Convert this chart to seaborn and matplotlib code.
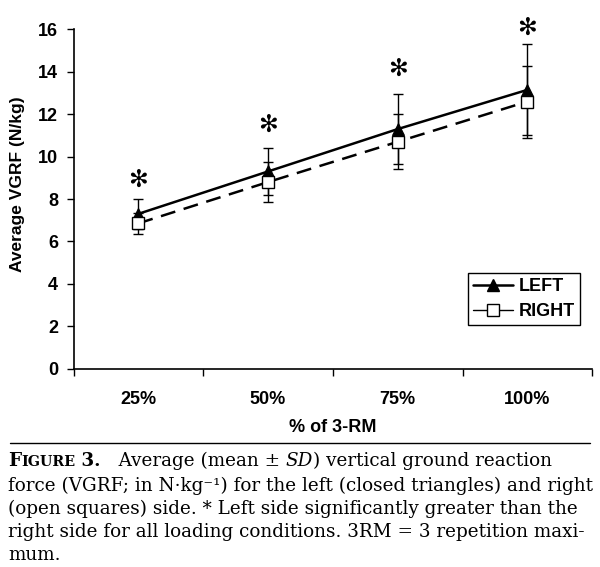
import numpy as np
import pandas as pd
import matplotlib
matplotlib.use("Agg")
import matplotlib.pyplot as plt
import seaborn as sns
from matplotlib.lines import Line2D
from matplotlib.offsetbox import TextArea, HPacker, AnchoredOffsetbox

# ---- data ----
categories = ["25%", "50%", "75%", "100%"]
left_mean = [7.3, 9.3, 11.3, 13.15]
left_sd = [0.7, 1.1, 1.65, 2.15]
right_mean = [6.85, 8.8, 10.7, 12.6]
right_sd = [0.5, 0.95, 1.3, 1.7]
star_y = [8.9, 11.5, 14.15, 16.1]
y_ticks = [0, 2, 4, 6, 8, 10, 12, 14, 16]
series_names = ["LEFT", "RIGHT"]

sns.set_theme(style="white")
plt.rcParams['font.family'] = ['Liberation Sans', 'DejaVu Sans']
plt.rcParams.update({
    "text.color": "black", "axes.labelcolor": "black",
    "xtick.color": "black", "ytick.color": "black",
})

df = pd.DataFrame({
    "pos": list(range(len(categories))) * 2,
    "value": left_mean + right_mean,
    "side": [series_names[0]] * len(categories) + [series_names[1]] * len(categories),
})

fig = plt.figure(figsize=(6.0, 5.67), dpi=100)
ax = fig.add_axes([0.1225, 0.350, 0.8645, 0.598])

x = np.arange(len(categories))
ax.errorbar(x, left_mean, yerr=left_sd, fmt='none', ecolor='black', elinewidth=1.0,
            capsize=3.5, capthick=1.0, zorder=2)
ax.errorbar(x, right_mean, yerr=right_sd, fmt='none', ecolor='black', elinewidth=1.0,
            capsize=3.5, capthick=1.0, zorder=2)

sns.lineplot(data=df[df.side == "LEFT"], x="pos", y="value", ax=ax, color="black",
             linewidth=1.8, marker="^", markersize=8, markerfacecolor="black",
             markeredgecolor="black", legend=False, zorder=3)
sns.lineplot(data=df[df.side == "RIGHT"], x="pos", y="value", ax=ax, color="black",
             linewidth=1.8, marker="s", markersize=8, markerfacecolor="white",
             markeredgecolor="black", markeredgewidth=1.0, legend=False, zorder=3,
             dashes=False)
ax.lines[-1].set_linestyle((0, (6, 3.5)))

for xi, yi in zip(x, star_y):
    ax.text(xi, yi, "\u273B", ha="center", va="center", fontsize=17, fontweight="bold",
            family="DejaVu Sans", color="black", clip_on=False)

ax.set_xlim(-0.5, 3.5)
ax.set_ylim(0, 16)
ax.set_yticks(y_ticks)
ax.set_yticklabels([str(t) for t in y_ticks], fontsize=13, fontweight="bold")
ax.set_xticks(x)
ax.set_xticklabels(categories, fontsize=13, fontweight="bold")
ax.set_xticks(np.arange(-0.5, 3.6, 1.0), minor=True)
ax.tick_params(axis="x", which="major", length=0, pad=16)
ax.tick_params(axis="x", which="minor", length=5, width=1.0, color="black", direction="out", bottom=True)
ax.tick_params(axis="y", which="major", length=5, width=1.0, color="black", direction="out", left=True, pad=6)

for s in ["top", "right"]:
    ax.spines[s].set_visible(False)
for s in ["left", "bottom"]:
    ax.spines[s].set_color("black")
    ax.spines[s].set_linewidth(1.2)

ax.set_xlabel("% of 3-RM", fontsize=13, fontweight="bold", labelpad=8)
ax.set_ylabel("Average VGRF (N/kg)", fontsize=12.5, fontweight="bold")
ax.yaxis.set_label_coords(-0.094, 0.544)

handles = [
    Line2D([], [], color="black", lw=1.8, marker="^", markersize=8, markerfacecolor="black"),
    Line2D([], [], color="black", lw=1.0, marker="s", markersize=8, markerfacecolor="white",
           markeredgewidth=1.0),
]
leg = ax.legend(handles, series_names, loc="lower right", bbox_to_anchor=(0.977, 0.127),
                frameon=True, fancybox=False, edgecolor="black", framealpha=1,
                prop={"weight": "bold", "size": 13}, handlelength=2.2, handletextpad=0.3,
                borderpad=0.3, labelspacing=0.45, borderaxespad=0)
leg.get_frame().set_linewidth(1.0)

# caption
fig.add_artist(Line2D([10 / 600, 590 / 600], [1 - 443 / 567] * 2, color="black", lw=1.0))

serif = "DejaVu Serif"
cs = 13.2
parts = [
    TextArea("F", textprops=dict(family=serif, size=cs, weight="bold")),
    TextArea("IGURE", textprops=dict(family=serif, size=cs * 0.78, weight="bold")),
    TextArea(" 3.", textprops=dict(family=serif, size=cs, weight="bold")),
    TextArea("   Average (mean \u00b1 ", textprops=dict(family=serif, size=cs)),
    TextArea("SD", textprops=dict(family=serif, size=cs, style="italic")),
    TextArea(") vertical ground reaction", textprops=dict(family=serif, size=cs)),
]
box = HPacker(children=parts, align="baseline", pad=0, sep=0)
anch = AnchoredOffsetbox(loc="upper left", child=box, pad=0, frameon=False,
                         bbox_to_anchor=(8 / 600, 1 - 452 / 567),
                         bbox_transform=fig.transFigure, borderpad=0)
fig.add_artist(anch)

lines = [
    "force (VGRF; in N\u00b7kg\u207b\u00b9) for the left (closed triangles) and right",
    "(open squares) side. * Left side significantly greater than the",
    "right side for all loading conditions. 3RM = 3 repetition maxi-",
    "mum.",
]
for i, ln in enumerate(lines):
    fig.text(8 / 600, 1 - (491 + 23 * i) / 567, ln, family=serif, size=cs,
             ha="left", va="baseline", color="black")

fig.savefig("out.png", dpi=100)
